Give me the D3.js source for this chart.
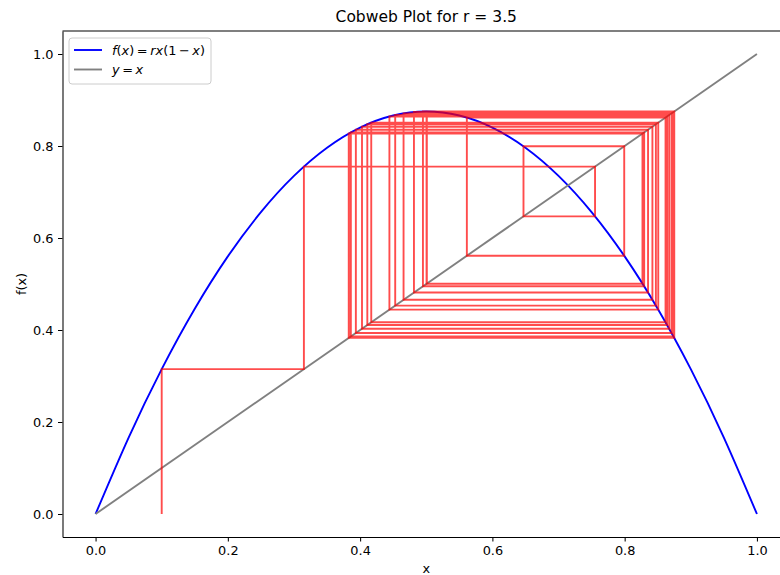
<!DOCTYPE html>
<html>
<head>
<meta charset="utf-8">
<script src="https://cdn.jsdelivr.net/npm/d3@7"></script>
<style>
    body { margin: 0; background: white; }
    text { font-family: "DejaVu Sans", sans-serif; fill: black; }
</style>
</head>
<body>
<div id="container"></div>
<script>
var r = 3.5;

// samples of f(x) = r x (1 - x)
var curveX = [0, 0.05, 0.1, 0.15, 0.2, 0.25, 0.3, 0.35, 0.4, 0.45, 0.5,
    0.55, 0.6, 0.65, 0.7, 0.75, 0.8, 0.85, 0.9, 0.95, 1.0];
var curveY = [0, 0.16625, 0.315, 0.44625, 0.56, 0.65625, 0.735, 0.79625, 0.84, 0.86625, 0.875,
    0.86625, 0.84, 0.79625, 0.735, 0.65625, 0.56, 0.44625, 0.315, 0.16625, 0];

// the orbit x0, x1, ... that the cobweb steps through
var orbit = [0.1, 0.315, 0.755213, 0.647033, 0.799335, 0.561396, 0.861807, 0.416835,
    0.850793, 0.444306, 0.864144, 0.410898, 0.847213, 0.453051, 0.867285, 0.402857,
    0.841971, 0.465694, 0.870882, 0.393564, 0.835347, 0.481392, 0.873789, 0.385984,
    0.829503, 0.494992, 0.874912, 0.383043, 0.827124, 0.500465, 0.874999, 0.382815,
    0.826937, 0.500892, 0.874997, 0.382820, 0.826941, 0.500883, 0.874997, 0.382820,
    0.826941, 0.500884, 0.874997, 0.382820, 0.826941, 0.500884, 0.874997, 0.382820,
    0.826941, 0.500884, 0.874997];

var xTicks = [0.0, 0.2, 0.4, 0.6, 0.8, 1.0];
var yTicks = [0.0, 0.2, 0.4, 0.6, 0.8, 1.0];

var width = 780, height = 575;
var plotLeft = 62.5, plotRight = 790, plotTop = 31, plotBottom = 537;

var svg = d3.select("#container")
    .append("svg")
    .attr("width", width)
    .attr("height", height);

var x = d3.scaleLinear().domain([-0.05, 1.05]).range([plotLeft, plotRight]);
var y = d3.scaleLinear().domain([-0.05, 1.05]).range([plotBottom, plotTop]);

svg.append("clipPath").attr("id", "clip")
    .append("rect")
    .attr("x", plotLeft).attr("y", plotTop)
    .attr("width", plotRight - plotLeft).attr("height", plotBottom - plotTop);

var plot = svg.append("g").attr("clip-path", "url(#clip)");

var line = d3.line()
    .x(function (d) { return x(d[0]); })
    .y(function (d) { return y(d[1]); });

plot.append("path")
    .datum(d3.zip(curveX, curveY))
    .attr("d", line.curve(d3.curveNatural))
    .attr("fill", "none")
    .attr("stroke", "#0000ff")
    .attr("stroke-width", 1.9);

plot.append("path")
    .datum([[0, 0], [1, 1]])
    .attr("d", line.curve(d3.curveLinear))
    .attr("fill", "none")
    .attr("stroke", "#808080")
    .attr("stroke-width", 1.9);

// cobweb as one polyline: up/down to the curve, then across to the diagonal
var web = [[orbit[0], 0]];
for (var i = 0; i < orbit.length - 1; i++) {
    web.push([orbit[i], orbit[i + 1]]);
    web.push([orbit[i + 1], orbit[i + 1]]);
}

plot.append("path")
    .datum(web)
    .attr("d", line)
    .attr("fill", "none")
    .attr("stroke", "#ff0000")
    .attr("stroke-opacity", 0.7)
    .attr("stroke-width", 1.9);

// axes
var xAxis = svg.append("g")
    .attr("transform", "translate(0," + plotBottom + ")")
    .call(d3.axisBottom(x).tickValues(xTicks).tickFormat(d3.format(".1f"))
        .tickSize(4.5).tickSizeOuter(0).tickPadding(4.5));

var yAxis = svg.append("g")
    .attr("transform", "translate(" + plotLeft + ",0)")
    .call(d3.axisLeft(y).tickValues(yTicks).tickFormat(d3.format(".1f"))
        .tickSize(4.5).tickSizeOuter(0).tickPadding(4.5));

[xAxis, yAxis].forEach(function (g) {
    g.selectAll("text")
        .style("font-family", "DejaVu Sans")
        .style("font-size", "12.9px")
        .attr("fill", "black");
    g.selectAll("line").attr("stroke", "black").attr("stroke-width", 1.05);
    g.select(".domain").attr("stroke", "black").attr("stroke-width", 1.05);
});

svg.append("line")
    .attr("x1", plotLeft).attr("x2", plotRight)
    .attr("y1", plotTop).attr("y2", plotTop)
    .attr("stroke", "black").attr("stroke-width", 1.05);

// titles
svg.append("text")
    .attr("x", (plotLeft + plotRight) / 2).attr("y", 22)
    .attr("text-anchor", "middle")
    .style("font-size", "15.5px")
    .text("Cobweb Plot for r = " + r);

svg.append("text")
    .attr("x", (plotLeft + plotRight) / 2).attr("y", 573)
    .attr("text-anchor", "middle")
    .style("font-size", "12.9px")
    .text("x");

svg.append("text")
    .attr("transform", "translate(26," + (plotTop + plotBottom) / 2 + ") rotate(-90)")
    .attr("text-anchor", "middle")
    .style("font-size", "12.9px")
    .text("f(x)");

// legend
var legend = svg.append("g");
legend.append("rect")
    .attr("x", 69).attr("y", 38)
    .attr("width", 142).attr("height", 46)
    .attr("rx", 3)
    .attr("fill", "white").attr("fill-opacity", 0.8)
    .attr("stroke", "#cccccc");

var entries = [
    { color: "#0000ff", parts: [["f", 1], ["(", 0], ["x", 1], [")\u2009=\u2009", 0], ["rx", 1], ["(1\u2009\u2212\u2009", 0], ["x", 1], [")", 0]] },
    { color: "#808080", parts: [["y", 1], ["\u2009=\u2009", 0], ["x", 1]] }
];

entries.forEach(function (e, k) {
    var ly = 50 + k * 19.5;
    legend.append("line")
        .attr("x1", 74).attr("x2", 102)
        .attr("y1", ly).attr("y2", ly)
        .attr("stroke", e.color).attr("stroke-width", 1.9);
    var t = legend.append("text")
        .attr("x", 112).attr("y", ly + 4.5)
        .style("font-size", "12.9px");
    e.parts.forEach(function (p) {
        t.append("tspan")
            .attr("font-style", p[1] ? "italic" : "normal")
            .text(p[0]);
    });
});
</script>
</body>
</html>
